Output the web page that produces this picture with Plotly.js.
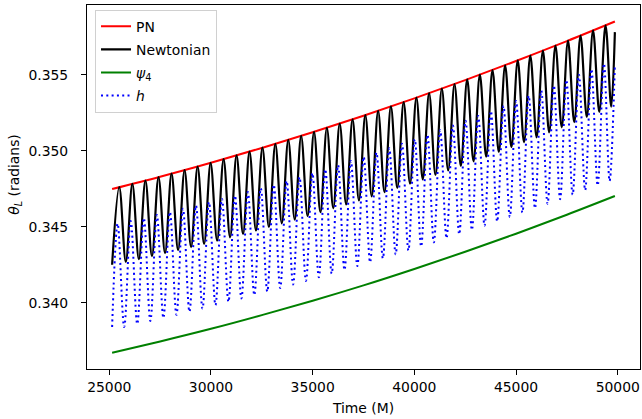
<!DOCTYPE html>
<html>
<head>
<meta charset="utf-8">
<script src="https://cdn.plot.ly/plotly-3.0.1.min.js"></script>
<style>html,body{margin:0;padding:0;background:#fff;}#chart{width:642px;height:419px;}</style>
</head>
<body>
<div id="chart"></div>
<script>
// PN envelope
const pnTime = [25140, 27500, 30000, 32500, 35000, 37500, 40000, 42500, 45000, 47500, 49860];
const pnTheta = [0.34748, 0.34829, 0.34921, 0.35018, 0.35121, 0.35230, 0.35344, 0.35464, 0.35590, 0.35721, 0.35850];

// psi4 curve
const psi4Time = [25140, 27500, 30000, 32500, 35000, 37500, 40000, 42500, 45000, 47500, 49860];
const psi4Theta = [0.33671, 0.33745, 0.33828, 0.33918, 0.34013, 0.34114, 0.34222, 0.34335, 0.34454, 0.34579, 0.34702];

// Newtonian: start, alternating peaks / troughs, end
const newtonTime = [25140,
 25491, 25813, 26135, 26456, 26778, 27100, 27421, 27742, 28062, 28383,
 28703, 29023, 29343, 29663, 29982, 30302, 30621, 30940, 31258, 31577,
 31895, 32213, 32531, 32849, 33166, 33484, 33801, 34118, 34434, 34751,
 35067, 35383, 35699, 36015, 36330, 36646, 36961, 37276, 37590, 37905,
 38219, 38533, 38847, 39161, 39474, 39788, 40101, 40414, 40726, 41039,
 41351, 41663, 41975, 42287, 42598, 42910, 43221, 43532, 43842, 44153,
 44463, 44773, 45083, 45393, 45702, 46012, 46321, 46630, 46938, 47247,
 47555, 47863, 48171, 48479, 48786, 49094, 49401, 49680,
 49860];
const newtonTheta = [0.3425,
 0.34760, 0.34269, 0.34782, 0.34287, 0.34804, 0.34306, 0.34827, 0.34326, 0.34849, 0.34346,
 0.34873, 0.34366, 0.34896, 0.34387, 0.34920, 0.34408, 0.34945, 0.34430, 0.34969, 0.34452,
 0.34994, 0.34475, 0.35020, 0.34498, 0.35045, 0.34522, 0.35071, 0.34546, 0.35098, 0.34570,
 0.35124, 0.34595, 0.35151, 0.34621, 0.35179, 0.34647, 0.35206, 0.34673, 0.35234, 0.34700,
 0.35262, 0.34727, 0.35291, 0.34755, 0.35320, 0.34783, 0.35349, 0.34811, 0.35379, 0.34840,
 0.35408, 0.34870, 0.35439, 0.34900, 0.35469, 0.34930, 0.35500, 0.34961, 0.35531, 0.34992,
 0.35562, 0.35023, 0.35594, 0.35055, 0.35626, 0.35088, 0.35658, 0.35121, 0.35691, 0.35154,
 0.35724, 0.35188, 0.35757, 0.35222, 0.35791, 0.35256, 0.35825, 0.35290,
 0.3578];

// h: start, alternating peaks / troughs, end
const hTime = [25140,
 25411, 25733, 26055, 26376, 26698, 27020, 27341, 27662, 27982, 28303,
 28623, 28943, 29263, 29583, 29902, 30222, 30541, 30860, 31178, 31497,
 31815, 32133, 32451, 32769, 33086, 33404, 33721, 34038, 34354, 34671,
 34987, 35303, 35619, 35935, 36250, 36566, 36881, 37196, 37510, 37825,
 38139, 38453, 38767, 39081, 39394, 39708, 40021, 40334, 40646, 40959,
 41271, 41583, 41895, 42207, 42518, 42830, 43141, 43452, 43762, 44073,
 44383, 44693, 45003, 45313, 45622, 45932, 46241, 46550, 46858, 47167,
 47475, 47783, 48091, 48399, 48706, 49014, 49321, 49600,
 49860];
const hTheta = [0.3384,
 0.34520, 0.33840, 0.34538, 0.33860, 0.34557, 0.33880, 0.34577, 0.33900, 0.34597, 0.33920,
 0.34618, 0.33941, 0.34639, 0.33962, 0.34661, 0.33984, 0.34683, 0.34006, 0.34705, 0.34028,
 0.34728, 0.34050, 0.34752, 0.34073, 0.34776, 0.34096, 0.34801, 0.34119, 0.34826, 0.34143,
 0.34852, 0.34167, 0.34878, 0.34191, 0.34904, 0.34216, 0.34932, 0.34241, 0.34959, 0.34266,
 0.34987, 0.34292, 0.35016, 0.34318, 0.35045, 0.34344, 0.35074, 0.34370, 0.35104, 0.34397,
 0.35135, 0.34424, 0.35165, 0.34451, 0.35197, 0.34479, 0.35229, 0.34507, 0.35261, 0.34535,
 0.35294, 0.34564, 0.35327, 0.34593, 0.35361, 0.34622, 0.35395, 0.34651, 0.35429, 0.34681,
 0.35465, 0.34711, 0.35500, 0.34741, 0.35536, 0.34772, 0.35573, 0.34801,
 0.3557];

const xTickVals = [25000, 30000, 35000, 40000, 45000, 50000];
const xTickText = ['25000', '30000', '35000', '40000', '45000', '50000'];
const yTickVals = [0.340, 0.345, 0.350, 0.355];
const yTickText = ['0.340', '0.345', '0.350', '0.355'];

const FONT = 'DejaVu Sans, sans-serif';

const traces = [
  {x: pnTime, y: pnTheta, name: 'PN', mode: 'lines', legendgroup: 'a',
   line: {color: '#ff0000', width: 2, shape: 'spline', smoothing: 1}},
  {x: newtonTime, y: newtonTheta, name: 'Newtonian', mode: 'lines', legendgroup: 'b',
   line: {color: '#000000', width: 2.2, shape: 'spline', smoothing: 1}},
  {x: psi4Time, y: psi4Theta, name: '<i>ψ</i><sub>4</sub>', mode: 'lines', legendgroup: 'c',
   line: {color: '#008000', width: 2, shape: 'spline', smoothing: 1}},
  {x: hTime, y: hTheta, name: '<i>h</i>', mode: 'lines', legendgroup: 'd',
   line: {color: '#0000ff', width: 2, dash: '2px,3.3px', shape: 'spline', smoothing: 1}}
];

const axisCommon = {
  showline: true, linecolor: '#000', linewidth: 1, mirror: true,
  ticks: 'outside', ticklen: 5, tickwidth: 1, tickcolor: '#000',
  showgrid: false, zeroline: false,
  tickfont: {family: FONT, size: 13.9, color: '#000'}
};

const layout = {
  width: 642, height: 419,
  margin: {l: 87, r: 2, t: 5, b: 50},
  paper_bgcolor: '#fff', plot_bgcolor: '#fff',
  font: {family: FONT, size: 13.9, color: '#000'},
  showlegend: true,
  legend: {
    x: 0.0145, y: 0.987, xanchor: 'left', yanchor: 'top',
    bgcolor: 'rgba(255,255,255,0.8)', bordercolor: '#d0d0d0', borderwidth: 1,
    font: {family: FONT, size: 13.9, color: '#000'},
    tracegroupgap: 2
  },
  xaxis: Object.assign({}, axisCommon, {
    range: [23905, 51095],
    tickvals: xTickVals, ticktext: xTickText,
    title: {text: 'Time (M)', font: {family: FONT, size: 13.9, color: '#000'}, standoff: 9}
  }),
  yaxis: Object.assign({}, axisCommon, {
    range: [0.335638, 0.359586],
    tickvals: yTickVals, ticktext: yTickText,
    ticklabelstandoff: 10
  }),
  annotations: [{
    text: '<i>θ</i><sub><i>L</i></sub> (radians)',
    xref: 'paper', yref: 'paper',
    x: -0.1305, y: 0.5357, xanchor: 'center', yanchor: 'middle',
    textangle: -90, showarrow: false,
    font: {family: FONT, size: 13.9, color: '#000'}
  }]
};

Plotly.newPlot('chart', traces, layout, {displayModeBar: false, staticPlot: true});
</script>
</body>
</html>
